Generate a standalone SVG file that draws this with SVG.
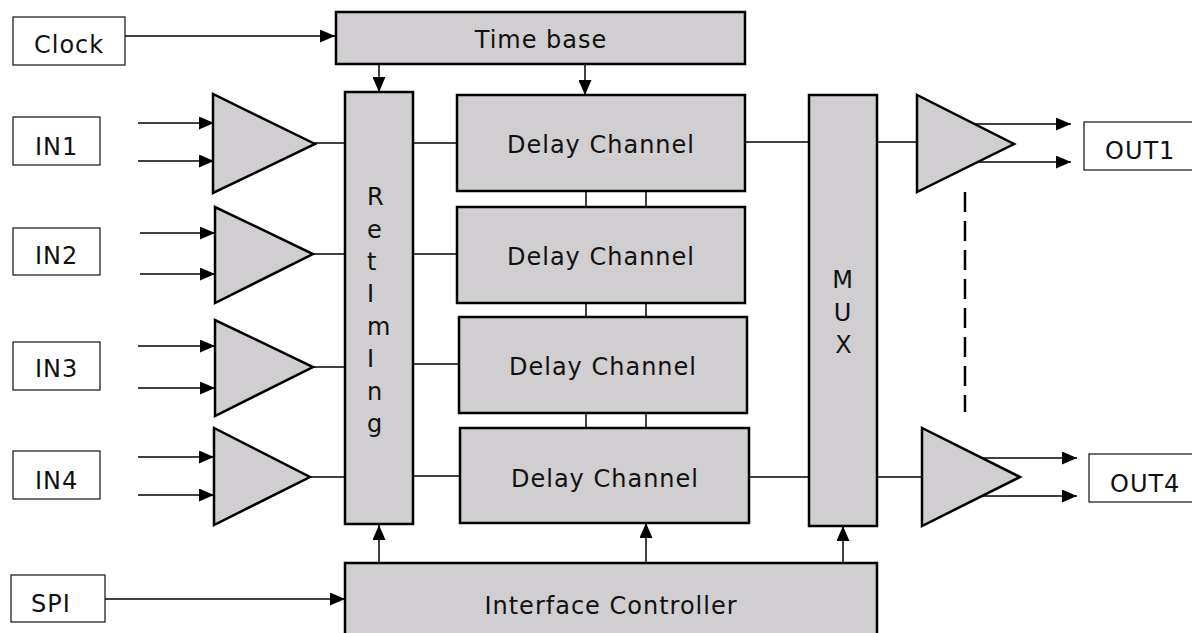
<svg xmlns="http://www.w3.org/2000/svg" width="1192" height="633" viewBox="0 0 1192 633">
<defs>
<style>
.blk{fill:#d0ced0;stroke:#000;stroke-width:2.5}
.lbl{fill:#fff;stroke:#222;stroke-width:1.3}
.amp{fill:#d0ced0;stroke:#000;stroke-width:2.5;stroke-linejoin:miter}
.ln{stroke:#000;stroke-width:1.5;fill:none}
.arr{stroke:#000;stroke-width:1.5;fill:none;marker-end:url(#ah)}
.dash{stroke:#000;stroke-width:2.5;stroke-dasharray:20 9;fill:none}
text{font-family:"DejaVu Sans",Verdana,sans-serif;font-size:24px;fill:#111;letter-spacing:1px}
.c{text-anchor:middle}
</style>
<marker id="ah" markerWidth="15" markerHeight="13" refX="15" refY="6.5" orient="auto" markerUnits="userSpaceOnUse">
<path d="M0,0 L15,6.5 L0,13 Z" fill="#000"/>
</marker>
</defs>
<rect width="1192" height="633" fill="#fff"/>

<g id="connectors">
<line class="arr" x1="125" y1="36" x2="335" y2="36"/>
<line class="arr" x1="379" y1="64" x2="379" y2="92"/>
<line class="arr" x1="585" y1="64" x2="585" y2="95"/>
<line class="arr" x1="138" y1="123" x2="214" y2="123"/>
<line class="arr" x1="138" y1="161" x2="214" y2="161"/>
<line class="arr" x1="140" y1="233" x2="215" y2="233"/>
<line class="arr" x1="140" y1="274" x2="215" y2="274"/>
<line class="arr" x1="138" y1="346" x2="215" y2="346"/>
<line class="arr" x1="138" y1="388" x2="215" y2="388"/>
<line class="arr" x1="138" y1="457" x2="214" y2="457"/>
<line class="arr" x1="138" y1="495" x2="214" y2="495"/>
<line class="ln" x1="313" y1="143" x2="345" y2="143"/>
<line class="ln" x1="313" y1="254" x2="345" y2="254"/>
<line class="ln" x1="313" y1="367" x2="345" y2="367"/>
<line class="ln" x1="310" y1="477" x2="345" y2="477"/>
<line class="ln" x1="413" y1="143" x2="457" y2="143"/>
<line class="ln" x1="413" y1="254" x2="457" y2="254"/>
<line class="ln" x1="413" y1="364" x2="459" y2="364"/>
<line class="ln" x1="413" y1="476" x2="460" y2="476"/>
<line class="ln" x1="586" y1="191" x2="586" y2="207"/>
<line class="ln" x1="646" y1="191" x2="646" y2="207"/>
<line class="ln" x1="586" y1="303" x2="586" y2="317"/>
<line class="ln" x1="646" y1="303" x2="646" y2="317"/>
<line class="ln" x1="586" y1="413" x2="586" y2="428"/>
<line class="ln" x1="646" y1="413" x2="646" y2="428"/>
<line class="ln" x1="745" y1="142" x2="809" y2="142"/>
<line class="ln" x1="877" y1="142" x2="918" y2="142"/>
<line class="ln" x1="749" y1="477" x2="809" y2="477"/>
<line class="ln" x1="877" y1="477" x2="922" y2="477"/>
<line class="arr" x1="960" y1="124" x2="1071" y2="124"/>
<line class="arr" x1="960" y1="162" x2="1071" y2="162"/>
<line class="arr" x1="965" y1="458" x2="1077" y2="458"/>
<line class="arr" x1="965" y1="496" x2="1077" y2="496"/>
<line class="dash" x1="965" y1="192" x2="965" y2="412"/>
<line class="arr" x1="105" y1="599" x2="345" y2="599"/>
<line class="arr" x1="379" y1="563" x2="379" y2="525"/>
<line class="arr" x1="646" y1="563" x2="646" y2="523"/>
<line class="arr" x1="843" y1="563" x2="843" y2="526"/>
</g>

<g id="clock"><rect class="lbl" x="13" y="17" width="112" height="48"/><text x="34" y="53">Clock</text></g>
<g id="in1"><rect class="lbl" x="13" y="117" width="87" height="48"/><text x="35" y="155">IN1</text></g>
<g id="in2"><rect class="lbl" x="13" y="228" width="87" height="47"/><text x="35" y="264">IN2</text></g>
<g id="in3"><rect class="lbl" x="13" y="342" width="87" height="48"/><text x="35" y="377">IN3</text></g>
<g id="in4"><rect class="lbl" x="13" y="451" width="87" height="48"/><text x="35" y="489">IN4</text></g>
<g id="spi"><rect class="lbl" x="11" y="575" width="94" height="47"/><text x="31" y="612">SPI</text></g>
<g id="out1"><rect class="lbl" x="1084" y="122" width="120" height="48"/><text x="1105" y="159">OUT1</text></g>
<g id="out4"><rect class="lbl" x="1089" y="454" width="120" height="48"/><text x="1110" y="492">OUT4</text></g>

<g id="amp-in1"><polygon class="amp" points="213,94 213,193 315,144"/></g>
<g id="amp-in2"><polygon class="amp" points="215,207 215,303 313,254"/></g>
<g id="amp-in3"><polygon class="amp" points="215,320 215,416 313,367"/></g>
<g id="amp-in4"><polygon class="amp" points="214,428 214,525 310,477"/></g>
<g id="amp-out1"><polygon class="amp" points="917,95 917,192 1014,144"/></g>
<g id="amp-out4"><polygon class="amp" points="922,428 922,526 1020,477"/></g>

<g id="timebase"><rect class="blk" x="336" y="12" width="409" height="52"/><text class="c" x="541" y="48">Time base</text></g>
<g id="retiming"><rect class="blk" x="345" y="92" width="68" height="432"/>
<text x="367" y="205">R</text><text x="367" y="238">e</text><text x="367" y="270">t</text><text x="367" y="302">I</text><text x="367" y="335">m</text><text x="367" y="367">I</text><text x="367" y="400">n</text><text x="367" y="432">g</text></g>
<g id="delay1"><rect class="blk" x="457" y="95" width="288" height="96"/><text class="c" x="601" y="153">Delay Channel</text></g>
<g id="delay2"><rect class="blk" x="457" y="207" width="288" height="96"/><text class="c" x="601" y="265">Delay Channel</text></g>
<g id="delay3"><rect class="blk" x="459" y="317" width="288" height="96"/><text class="c" x="603" y="375">Delay Channel</text></g>
<g id="delay4"><rect class="blk" x="460" y="428" width="289" height="95"/><text class="c" x="605" y="487">Delay Channel</text></g>
<g id="mux"><rect class="blk" x="809" y="95" width="68" height="431"/>
<text class="c" x="843" y="288">M</text><text class="c" x="843" y="321">U</text><text class="c" x="844" y="353">X</text></g>
<g id="interface"><rect class="blk" x="345" y="563" width="532" height="80"/><text class="c" x="611" y="614">Interface Controller</text></g>
</svg>
